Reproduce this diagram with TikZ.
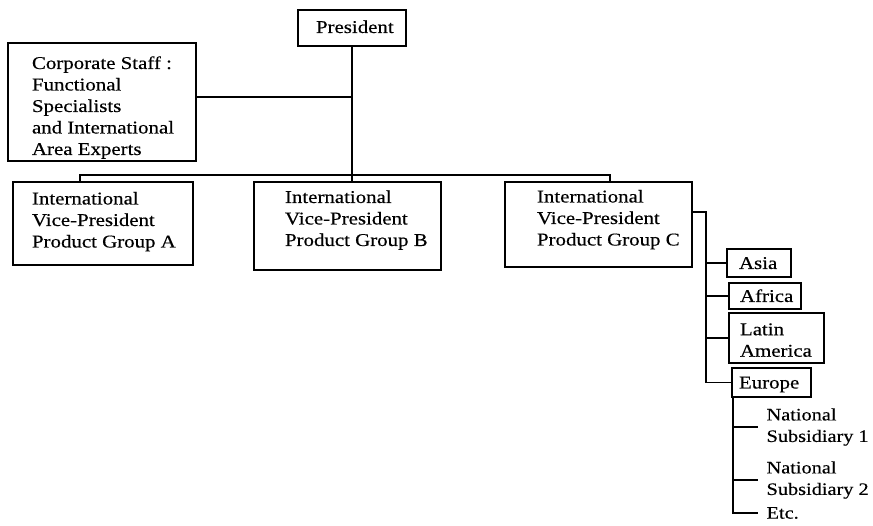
\documentclass[tikz,border=0pt]{standalone}
\usepackage{fontspec}
\setmainfont{Liberation Serif}[FakeStretch=1.16,FakeBold=0.4]
% box content: total width, left indent, vertical shift, lines
\newcommand\boxlines[4]{\makebox[#1][l]{\hspace*{#2}\raisebox{#3}[0pt][0pt]{\begin{tabular}[c]{@{}l@{}}#4\end{tabular}}}}
\begin{document}
\begin{tikzpicture}[x=1pt,y=-1pt,line width=1.2pt,
  unit/.style={draw,rectangle,inner sep=0pt,font=\fontsize{18}{21.5}\selectfont},
  leaf/.style={inner sep=0pt,anchor=west,align=left,font=\fontsize{17.5}{21.5}\selectfont}]
\useasboundingbox (0,0) rectangle (873,525);

% top level
\node[unit,minimum height=36pt] (pres) at (352,28)
  {\boxlines{108pt}{18pt}{-5pt}{President}};
\node[unit,minimum height=118pt] (corp) at (102,102)
  {\boxlines{188pt}{24pt}{-10pt}{Corporate Staff :\\Functional\\Specialists\\and International\\Area Experts}};

% product groups
\node[unit,minimum height=83pt] (A) at (103,223.5)
  {\boxlines{180pt}{19pt}{-2.5pt}{International\\Vice-President\\Product Group A}};
\node[unit,minimum height=88pt] (B) at (347.5,226)
  {\boxlines{187pt}{31pt}{1.5pt}{International\\Vice-President\\Product Group B}};
\node[unit,minimum height=85pt] (C) at (598.5,224.5)
  {\boxlines{187pt}{32pt}{0.5pt}{International\\Vice-President\\Product Group C}};

% areas
\node[unit,minimum height=28pt] (asia) at (759,263)
  {\boxlines{64pt}{12pt}{-6pt}{Asia}};
\node[unit,minimum height=26pt] (africa) at (765,296)
  {\boxlines{72pt}{11pt}{-6pt}{Africa}};
\node[unit,minimum height=50pt] (latam) at (776.5,338)
  {\boxlines{95pt}{11pt}{-8pt}{Latin\\America}};
\node[unit,minimum height=29pt] (eu) at (771.5,382.5)
  {\boxlines{79pt}{7pt}{-6pt}{Europe}};

% subsidiaries
\node[leaf] (ns1) at (766,427) {National\\Subsidiary 1};
\node[leaf] (ns2) at (766,480) {National\\Subsidiary 2};
\node[leaf] (etc) at (766,513) {Etc.};

% connectors
\coordinate (busA) at (80,175);
\coordinate (busC) at (610,175);
\coordinate (cdrop) at (706,212);
\coordinate (edrop) at (733,513);

\draw (pres.south) -- (pres.south |- B.north);
\draw ([yshift=5pt]corp.east) -- ([yshift=5pt]corp.east -| pres.south);
\draw (busA |- A.north) -- (busA) -- (busC) -- (busC |- C.north);
\draw ([yshift=12.5pt]C.east) -- (cdrop) -- (cdrop |- eu.west) -- (eu.west);
\foreach \n in {asia,africa,latam}
  \draw (cdrop |- \n.west) -- (\n.west);
\draw (edrop |- eu.south) -- (edrop |- etc.west) -- ([xshift=-8pt]etc.west);
\foreach \n in {ns1,ns2}
  \draw (edrop |- \n.west) -- ([xshift=-8pt]\n.west);
\end{tikzpicture}
\end{document}
